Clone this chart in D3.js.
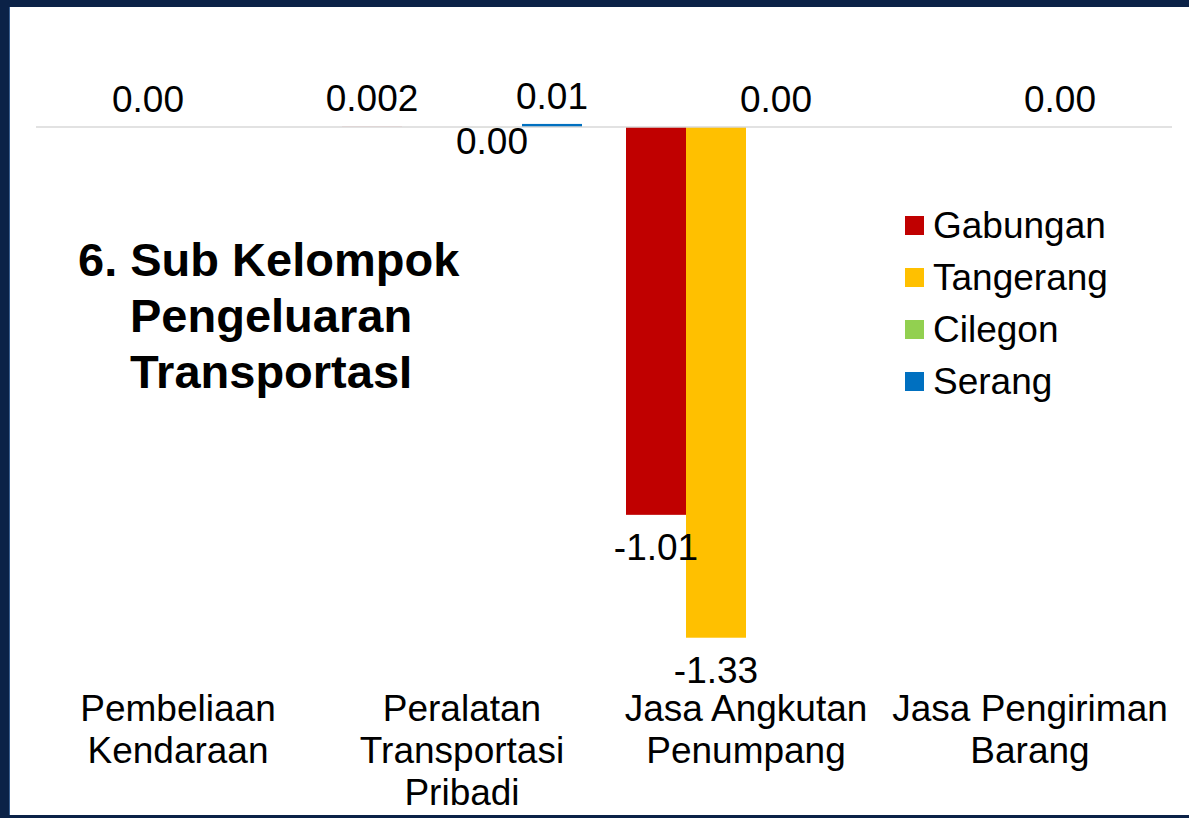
<!DOCTYPE html>
<html>
<head>
<meta charset="utf-8">
<script src="https://cdn.jsdelivr.net/npm/d3@7"></script>
<style>
  html, body { margin: 0; padding: 0; background: #fff; }
  svg { display: block; font-family: "Liberation Sans", Arial, sans-serif; }
</style>
</head>
<body>
<svg id="chart" width="1189" height="818"></svg>
<script>
// ---- data ----
const categories = ["Pembeliaan Kendaraan", "Peralatan Transportasi Pribadi", "Jasa Angkutan Penumpang", "Jasa Pengiriman Barang"];
const categoryLines = [["Pembeliaan", "Kendaraan"], ["Peralatan", "Transportasi", "Pribadi"], ["Jasa Angkutan", "Penumpang"], ["Jasa Pengiriman", "Barang"]];
const seriesNames = ["Gabungan", "Tangerang", "Cilegon", "Serang"];
const seriesColors = ["#C00000", "#FFC000", "#92D050", "#0070C0"];
const gabungan  = [0, 0.002, -1.01, 0];
const tangerang = [0, 0, -1.33, 0];
const cilegon   = [0, -0.001, 0, 0];
const serang    = [0, 0.008, 0, 0];
const gabunganLabels  = [null, "0.002", "-1.01", null];
const tangerangLabels = ["0.00", null, "-1.33", null];
const cilegonLabels   = [null, "0.00", "0.00", "0.00"];
const serangLabels    = [null, "0.01", null, null];
const titleLines = ["6. Sub Kelompok", "Pengeluaran", "TransportasI"];

const seriesValues = [gabungan, tangerang, cilegon, serang];
const seriesLabels = [gabunganLabels, tangerangLabels, cilegonLabels, serangLabels];

// ---- layout ----
const svg = d3.select("#chart");
const W = 1189, H = 818;
const navy = "#0b2247";
const FS = 37;

svg.append("rect").attr("x", 0).attr("y", 0).attr("width", W).attr("height", H).attr("fill", "#fff");

const x0 = d3.scaleBand().domain(categories).range([36, 1172]).paddingInner(0).paddingOuter(0);
const x1 = d3.scaleBand().domain(seriesNames).range([22, x0.bandwidth() - 22]).padding(0);
const y = d3.scaleLinear().domain([-1.5, 0.3]).range([703, 11.8]);

const rows = [];
categories.forEach((c, ci) => {
  seriesNames.forEach((s, si) => {
    rows.push({ cat: c, ci, series: s, si, value: seriesValues[si][ci], label: seriesLabels[si][ci] });
  });
});

// bars
svg.append("g").selectAll("rect")
  .data(rows)
  .join("rect")
  .attr("x", d => x0(d.cat) + x1(d.series))
  .attr("width", x1.bandwidth())
  .attr("y", d => Math.min(y(d.value), y(0)))
  .attr("height", d => Math.abs(y(d.value) - y(0)))
  .attr("fill", d => seriesColors[d.si])
  .attr("fill-opacity", d => Math.abs(y(d.value) - y(0)) < 1 ? 0.25 : 1);

// zero gridline
svg.append("line")
  .attr("x1", x0.range()[0]).attr("x2", x0.range()[1])
  .attr("y1", y(0)).attr("y2", y(0))
  .attr("stroke", "#d9d9d9").attr("stroke-width", 1.5);

// data labels
svg.append("g").selectAll("text")
  .data(rows.filter(d => d.label !== null))
  .join("text")
  .attr("x", d => x0(d.cat) + x1(d.series) + x1.bandwidth() / 2)
  .attr("y", d => d.value >= 0 ? y(d.value) - 15 : y(d.value) + (y(d.value) - y(0) > 20 ? 45 : 27))
  .attr("text-anchor", "middle")
  .attr("font-size", FS)
  .attr("fill", "#000")
  .text(d => d.label);

// category axis labels
const catG = svg.append("g");
categories.forEach((c, ci) => {
  const t = catG.append("text")
    .attr("text-anchor", "middle")
    .attr("font-size", FS)
    .attr("fill", "#000");
  categoryLines[ci].forEach((line, li) => {
    t.append("tspan").attr("x", x0(c) + x0.bandwidth() / 2).attr("y", 721 + li * 42).text(line);
  });
});

// title
const title = svg.append("text").attr("font-size", 47).attr("font-weight", "bold").attr("fill", "#000");
titleLines.forEach((line, i) => {
  title.append("tspan").attr("x", i === 0 ? 78 : 130).attr("y", 276 + i * 56).text(line);
});

// legend
const legend = svg.append("g").attr("transform", "translate(905,216)");
seriesNames.forEach((s, i) => {
  const g = legend.append("g").attr("transform", `translate(0,${i * 52})`);
  g.append("rect").attr("width", 19).attr("height", 19).attr("fill", seriesColors[i]);
  g.append("text").attr("x", 28).attr("y", 22).attr("font-size", FS).attr("fill", "#000").text(s);
});

// frame (navy border left, top, bottom)
svg.append("rect").attr("x", 0).attr("y", 0).attr("width", 9).attr("height", H).attr("fill", navy);
svg.append("rect").attr("x", 0).attr("y", 0).attr("width", W).attr("height", 7).attr("fill", navy);
svg.append("rect").attr("x", 0).attr("y", 815).attr("width", W).attr("height", 3).attr("fill", navy);
svg.append("line").attr("x1", 9.5).attr("x2", 9.5).attr("y1", 7).attr("y2", 815).attr("stroke", "#3a5f8f").attr("stroke-width", 1);
</script>
</body>
</html>
